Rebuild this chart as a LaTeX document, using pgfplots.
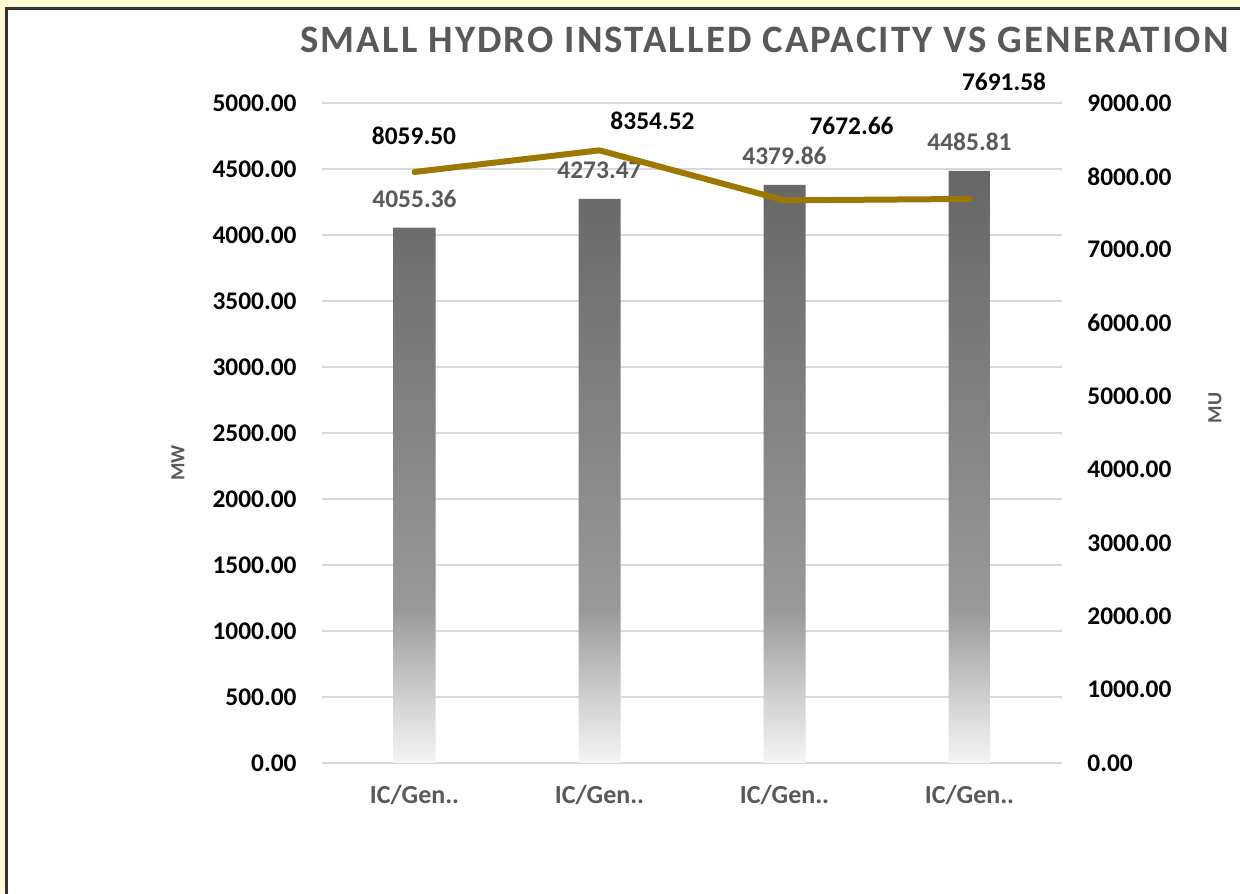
\documentclass[border=0pt]{standalone}
\usepackage{fontspec}
\setmainfont{Carlito}
\newfontfamily\titlefont[LetterSpace=5.5]{Carlito}
\usepackage{pgfplots}
\pgfplotsset{compat=1.18}
\pgfkeys{/pgf/number format/assume math mode=true}
\definecolor{bgy}{RGB}{255,250,210}
\definecolor{txtgray}{RGB}{89,89,89}
\definecolor{gridc}{RGB}{217,217,217}
\definecolor{linec}{RGB}{156,120,0}
\pgfdeclareverticalshading{barshade}{100bp}{color(0bp)=(white!96!black); color(25bp)=(white!96!black); color(31bp)=(white!80!black); color(38bp)=(black!40); color(75bp)=(black!60); color(100bp)=(black!60)}
\newcommand{\tickfont}{\fontsize{12.7pt}{15pt}\selectfont\bfseries}
\begin{document}
\begin{tikzpicture}[font=\bfseries]
\useasboundingbox (0,0) rectangle (620pt,446.5pt);
\clip (0,0) rectangle (620pt,446.5pt);
\fill[bgy] (0,0) rectangle (620pt,446.5pt);
\filldraw[fill=white, draw=black!80, line width=1.5pt] (3.25pt,-20pt) rectangle (650pt,442pt);

\begin{axis}[
  at={(161pt,65pt)}, anchor=south west, scale only axis,
  width=370pt, height=330pt,
  xmin=-0.5, xmax=3.5, ymin=0, ymax=5000,
  axis x line*=bottom, axis y line*=left,
  axis line style={draw=none}, major tick style={draw=none},
  ytick={0,500,...,5000},
  ymajorgrids, grid style={gridc, line width=1pt},
  scaled y ticks=false,
  yticklabel style={font=\tickfont, black, inner sep=0pt, xshift=-12.5pt,
    /pgf/number format/fixed, /pgf/number format/fixed zerofill,
    /pgf/number format/precision=2, /pgf/number format/1000 sep={}},
  xtick={0,1,2,3},
  xticklabels={IC/Gen..,IC/Gen..,IC/Gen..,IC/Gen..},
  xticklabel style={font=\fontsize{13pt}{15pt}\selectfont\bfseries, txtgray, inner sep=0pt, yshift=-11pt},
  clip=false,
]
\addplot[ybar, bar width=21pt, draw=none, shading=barshade,
  nodes near coords={\pgfmathprintnumber[fixed,fixed zerofill,precision=2,1000 sep={}]{\pgfplotspointmeta}},
  every node near coord/.append style={txtgray, anchor=base, inner sep=0pt, yshift=10pt, font=\tickfont}]
  coordinates {(0,4055.36) (1,4273.47) (2,4379.86) (3,4485.81)};
\end{axis}

\begin{axis}[
  at={(161pt,65pt)}, anchor=south west, scale only axis,
  width=370pt, height=330pt,
  xmin=-0.5, xmax=3.5, ymin=0, ymax=9000,
  axis y line*=right, axis x line=none,
  axis line style={draw=none}, major tick style={draw=none},
  ytick={0,1000,...,9000},
  scaled y ticks=false,
  yticklabel style={font=\tickfont, black, inner sep=0pt, xshift=12.5pt,
    /pgf/number format/fixed, /pgf/number format/fixed zerofill,
    /pgf/number format/precision=2, /pgf/number format/1000 sep={}},
  clip=false,
]
\addplot[linec, line width=3pt, line join=round, line cap=round, mark=none]
  coordinates {(0,8059.50) (1,8354.52) (2,7672.66) (3,7691.58)};
\end{axis}

\node[anchor=base west, inner sep=0pt, txtgray, font=\fontsize{19.4pt}{22pt}\selectfont\titlefont\bfseries] at (150pt,420pt) {SMALL HYDRO INSTALLED CAPACITY VS GENERATION};
\node[rotate=90, txtgray, font=\fontsize{10pt}{12pt}\selectfont\bfseries] at (89pt,215pt) {MW};
\node[rotate=90, txtgray, font=\fontsize{10pt}{12pt}\selectfont\bfseries] at (607.5pt,242.5pt) {MU};
\node[inner sep=0pt, black, font=\tickfont] at (207pt,378.5pt) {8059.50};
\node[inner sep=0pt, black, font=\tickfont] at (326.25pt,386pt) {8354.52};
\node[inner sep=0pt, black, font=\tickfont] at (425.75pt,383.5pt) {7672.66};
\node[inner sep=0pt, black, font=\tickfont] at (502pt,405.5pt) {7691.58};
\end{tikzpicture}
\end{document}
